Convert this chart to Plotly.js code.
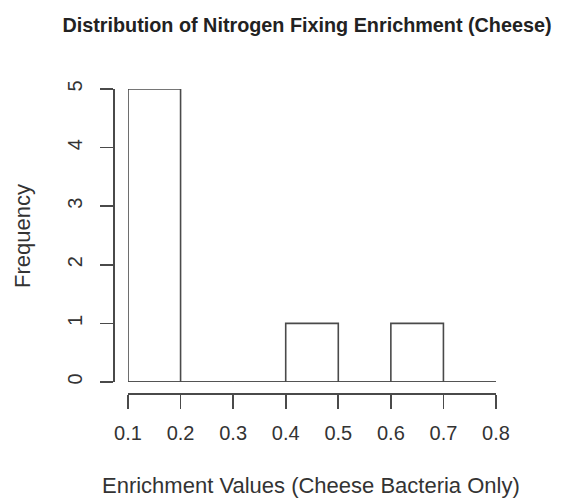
<!DOCTYPE html>
<html>
<head>
<meta charset="utf-8">
<script src="https://cdn.plot.ly/plotly-3.0.1.min.js"></script>
<style>html,body{margin:0;padding:0;background:#fff;}#chart{width:563px;height:499px;}</style>
</head>
<body>
<div id="chart"></div>
<script>
// Histogram data
const binEdges = [0.1, 0.2, 0.3, 0.4, 0.5, 0.6, 0.7, 0.8];
const counts = [5, 0, 0, 1, 0, 1, 0];
const xTickVals = [0.1, 0.2, 0.3, 0.4, 0.5, 0.6, 0.7, 0.8];
const xTickText = ["0.1", "0.2", "0.3", "0.4", "0.5", "0.6", "0.7", "0.8"];
const yTickVals = [0, 1, 2, 3, 4, 5];

const centers = counts.map((c, i) => (binEdges[i] + binEdges[i + 1]) / 2);
const widths = counts.map((c, i) => binEdges[i + 1] - binEdges[i]);

const W = 563, H = 499;
const px = v => v / W;
const py = v => (H - v) / H;

const lineColor = '#4a4a4a';
const textColor = '#333333';

const traces = [
  {
    type: 'scatter', mode: 'lines',
    x: [binEdges[0], binEdges[binEdges.length - 1]], y: [0, 0],
    line: {color: lineColor, width: 1.6}, hoverinfo: 'skip', showlegend: false
  },
  {
    type: 'bar', x: centers, y: counts, width: widths,
    marker: {color: '#ffffff', line: {color: lineColor, width: 1.6}},
    showlegend: false
  }
];

const layout = {
  width: W, height: H,
  margin: {l: 0, r: 0, t: 0, b: 0},
  paper_bgcolor: '#ffffff', plot_bgcolor: '#ffffff',
  font: {family: 'Liberation Sans, Arial, sans-serif', color: textColor, size: 20},
  title: {
    text: '<b>Distribution of Nitrogen Fixing Enrichment (Cheese)</b>',
    font: {size: 19.8, color: '#222222'},
    x: px(307), xanchor: 'center', xref: 'paper',
    y: 1 - 25 / H, yanchor: 'middle', yref: 'container'
  },
  xaxis: {
    domain: [px(128), px(496)],
    range: [binEdges[0], binEdges[binEdges.length - 1]],
    anchor: 'free', position: py(393),
    showgrid: false, zeroline: false,
    showline: true, linecolor: lineColor, linewidth: 1.6,
    ticks: 'outside', ticklen: 14, tickwidth: 1.6, tickcolor: lineColor,
    tickvals: xTickVals, ticktext: xTickText,
    tickfont: {size: 20, color: textColor}, ticklabelstandoff: 7
  },
  yaxis: {
    domain: [py(382), py(89)],
    range: [0, 5],
    anchor: 'free', position: px(113),
    showgrid: false, zeroline: false,
    showline: true, linecolor: lineColor, linewidth: 1.6,
    ticks: 'outside', ticklen: 13, tickwidth: 1.6, tickcolor: lineColor,
    tickvals: yTickVals, tickangle: -90,
    tickfont: {size: 20, color: textColor}, ticklabelstandoff: 10
  },
  annotations: [
    {text: 'Enrichment Values (Cheese Bacteria Only)', xref: 'paper', yref: 'paper',
     x: px(311), y: py(485), xanchor: 'center', yanchor: 'middle', showarrow: false,
     font: {size: 22, color: textColor}},
    {text: 'Frequency', xref: 'paper', yref: 'paper', textangle: -90,
     x: px(22), y: py(236), xanchor: 'center', yanchor: 'middle', showarrow: false,
     font: {size: 22, color: textColor}}
  ]
};

Plotly.newPlot('chart', traces, layout, {displayModeBar: false, staticPlot: true});
</script>
</body>
</html>
